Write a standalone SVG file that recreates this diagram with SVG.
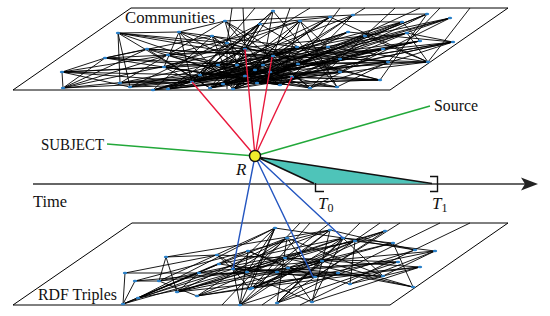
<svg xmlns="http://www.w3.org/2000/svg" width="550" height="316" viewBox="0 0 550 316">
<style>
.plane{fill:none;stroke:#000;stroke-width:1}
.edges{fill:none;stroke:#000;stroke-width:0.9}
.dot{fill:#2a80c8}
.lbl{font-family:"Liberation Serif","DejaVu Serif",serif;font-size:16.5px;fill:#111}
.it{font-family:"Liberation Serif","DejaVu Serif",serif;font-style:italic;font-size:17px;fill:#111}
.sub{font-family:"Liberation Serif","DejaVu Serif",serif;font-size:12px;fill:#111}
.red{stroke:#e8183c;stroke-width:1.4;fill:none}
.green{stroke:#22a83a;stroke-width:1.4;fill:none}
.blue{stroke:#2456c0;stroke-width:1.4;fill:none}
</style>
<rect width="550" height="316" fill="#fff"/>

<g id="communities">
<path class="plane" d="M131,8 L508,8 L390,90 L13,90 Z"/>
<path class="edges" d="M118,33L179,32M118,33L120,83M118,33L130,87M118,33L245,49M118,33L298,64M118,33L227,43M179,32L164,67M179,32L192,82M179,32L297,47M179,32L225,21M147,49L105,58M147,49L273,56M147,49L340,59M105,58L62,72M105,58L63,88M105,58L212,36M105,58L237,65M105,58L328,47M62,72L63,88M62,72L168,55M62,72L218,65M62,72L164,67M62,72L130,87M63,88L147,49M63,88L168,55M63,88L245,49M120,83L297,47M120,83L225,21M130,87L260,24M130,87L263,65M164,67L192,82M164,67L383,49M168,55L300,21M168,55L292,77M168,55L365,36M192,82L227,43M192,82L273,11M192,82L330,17M192,82L348,32M192,82L407,33M192,82L420,41M225,21L237,65M225,21L353,15M225,21L298,64M212,36L257,83M212,36L380,80M227,43L227,89M245,49L260,24M245,49L388,62M245,49L233,89M260,24L330,17M260,24L223,84M260,24L340,72M273,11L263,65M273,11L337,87M300,21L233,89M300,21L402,22M300,21L340,59M330,17L223,84M330,17L428,62M353,15L270,72M353,15L427,14M353,15L292,77M427,14L298,64M427,14L380,80M450,18L257,83M450,18L365,36M402,22L233,89M402,22L420,41M348,32L168,89M348,32L453,42M365,36L218,65M365,36L428,62M407,33L270,72M407,33L453,42M420,41L210,88M420,41L383,49M453,42L292,77M453,42L237,65M297,47L153,90M297,47L388,62M328,47L223,84M328,47L428,62M383,49L257,83M383,49L340,72M340,59L192,82M340,59L428,62M388,62L218,65M388,62L337,87M428,62L263,65M428,62L407,33M298,64L168,89M263,65L153,90M292,77L210,88M292,77L380,80M340,72L233,89M380,80L270,72M337,87L257,83M120,83L340,72M130,87L380,80M63,88L292,77M168,89L388,62M153,90L328,47M233,89L453,42M210,88L300,21M223,84L365,36M245,76L402,22M245,76L118,33M280,85L427,14M280,85L179,32M255,70L450,18M255,70L105,58M310,88L225,21M310,88L453,42M200,75L353,15M200,75L62,72M237,65L420,41M218,65L407,33M257,83L348,32M270,72L147,49M273,56L402,22M273,56L233,89M227,43L340,72M164,67L300,21M168,55L257,83M147,49L210,88M179,32L380,80M212,36L153,90M260,24L168,89M225,21L280,85M245,49L243,8M227,43L232,8M273,56L290,8M298,64L340,8M340,59L395,8M388,62L440,8M428,62L470,8M192,82L255,8M200,75L310,8M233,89L365,8M257,83L420,8M280,85L300,21M245,76L330,17M255,70L200,75M210,88L297,47M223,84L450,18M192,82L255,70M233,89L263,65M270,72L310,88M280,85L407,33M200,75L273,11M245,76L453,42M257,83L428,62M223,84L298,64M310,88L340,59M168,89L245,49M153,90L237,65M130,87L218,65M120,83L192,82M280,85L212,36M337,87L300,21M210,88L260,24M192,82L298,64M200,75L340,72M210,88L340,59M223,84L388,62M233,89L297,47M245,76L380,80M255,70L337,87M257,83L292,77M263,65L210,88M270,72L192,82M273,56L310,88M280,85L164,67M292,77L153,90M298,64L233,89M310,88L218,65M337,87L245,76M340,72L168,89M380,80L223,84M200,75L428,62M210,88L383,49M168,89L273,56M153,90L255,70M130,87L245,76M120,83L270,72M164,67L310,88M218,65L280,85M237,65L200,75M227,43L280,85M212,36L233,89M147,49L257,83M62,72L223,84M63,88L200,75M105,58L280,85M118,33L210,88M179,32L233,89M245,49L192,82M260,24L200,75M273,11L223,84M300,21L245,76M330,17L255,70M348,32L210,88M365,36L257,83M297,47L200,75M328,47L192,82M383,49L223,84M420,41L245,76M453,42L270,72M450,18L310,88M427,14L233,89M402,22L280,85"/>
<g class="dot">
<ellipse cx="118" cy="33" rx="2.2" ry="1.3"/><ellipse cx="179" cy="32" rx="2.2" ry="1.3"/><ellipse cx="147" cy="49" rx="2.2" ry="1.3"/><ellipse cx="105" cy="58" rx="2.2" ry="1.3"/><ellipse cx="62" cy="72" rx="2.2" ry="1.3"/><ellipse cx="63" cy="88" rx="2.2" ry="1.3"/><ellipse cx="120" cy="83" rx="2.2" ry="1.3"/><ellipse cx="130" cy="87" rx="2.2" ry="1.3"/><ellipse cx="164" cy="67" rx="2.2" ry="1.3"/><ellipse cx="168" cy="55" rx="2.2" ry="1.3"/><ellipse cx="192" cy="82" rx="2.2" ry="1.3"/><ellipse cx="225" cy="21" rx="2.2" ry="1.3"/><ellipse cx="227" cy="43" rx="2.2" ry="1.3"/><ellipse cx="212" cy="36" rx="2.2" ry="1.3"/><ellipse cx="245" cy="49" rx="2.2" ry="1.3"/><ellipse cx="260" cy="24" rx="2.2" ry="1.3"/><ellipse cx="273" cy="56" rx="2.2" ry="1.3"/><ellipse cx="237" cy="65" rx="2.2" ry="1.3"/><ellipse cx="218" cy="65" rx="2.2" ry="1.3"/><ellipse cx="257" cy="83" rx="2.2" ry="1.3"/><ellipse cx="233" cy="89" rx="2.2" ry="1.3"/><ellipse cx="273" cy="11" rx="2.2" ry="1.3"/><ellipse cx="300" cy="21" rx="2.2" ry="1.3"/><ellipse cx="330" cy="17" rx="2.2" ry="1.3"/><ellipse cx="353" cy="15" rx="2.2" ry="1.3"/><ellipse cx="427" cy="14" rx="2.2" ry="1.3"/><ellipse cx="450" cy="18" rx="2.2" ry="1.3"/><ellipse cx="402" cy="22" rx="2.2" ry="1.3"/><ellipse cx="348" cy="32" rx="2.2" ry="1.3"/><ellipse cx="365" cy="36" rx="2.2" ry="1.3"/><ellipse cx="407" cy="33" rx="2.2" ry="1.3"/><ellipse cx="420" cy="41" rx="2.2" ry="1.3"/><ellipse cx="453" cy="42" rx="2.2" ry="1.3"/><ellipse cx="297" cy="47" rx="2.2" ry="1.3"/><ellipse cx="328" cy="47" rx="2.2" ry="1.3"/><ellipse cx="383" cy="49" rx="2.2" ry="1.3"/><ellipse cx="340" cy="59" rx="2.2" ry="1.3"/><ellipse cx="388" cy="62" rx="2.2" ry="1.3"/><ellipse cx="428" cy="62" rx="2.2" ry="1.3"/><ellipse cx="298" cy="64" rx="2.2" ry="1.3"/><ellipse cx="263" cy="65" rx="2.2" ry="1.3"/><ellipse cx="292" cy="77" rx="2.2" ry="1.3"/><ellipse cx="340" cy="72" rx="2.2" ry="1.3"/><ellipse cx="380" cy="80" rx="2.2" ry="1.3"/><ellipse cx="337" cy="87" rx="2.2" ry="1.3"/><ellipse cx="168" cy="89" rx="2.2" ry="1.3"/><ellipse cx="153" cy="90" rx="2.2" ry="1.3"/><ellipse cx="223" cy="84" rx="2.2" ry="1.3"/><ellipse cx="270" cy="72" rx="2.2" ry="1.3"/><ellipse cx="245" cy="76" rx="2.2" ry="1.3"/><ellipse cx="280" cy="85" rx="2.2" ry="1.3"/><ellipse cx="210" cy="88" rx="2.2" ry="1.3"/><ellipse cx="310" cy="88" rx="2.2" ry="1.3"/><ellipse cx="255" cy="70" rx="2.2" ry="1.3"/><ellipse cx="200" cy="75" rx="2.2" ry="1.3"/>
</g>
<text class="lbl" x="125" y="23" textLength="90" lengthAdjust="spacingAndGlyphs">Communities</text>
</g>

<g id="rdf-triples">
<path class="plane" d="M132,223 L508,223 L390,305 L13,305 Z"/>
<path class="edges" d="M166,257L217,255M166,257L159,281M166,257L177,292M125,273L217,255M125,273L123,304M125,273L199,273M135,281L159,281M135,281L123,304M135,281L248,251M159,281L247,272M159,281L197,296M217,255L233,269M217,255L247,272M199,273L233,269M199,273L177,292M219,264L343,238M219,264L138,298M248,251L240,305M248,251L330,230M233,269L250,289M233,269L355,241M177,292L343,238M138,298L275,228M197,296L287,238M123,304L330,230M123,304L285,258M138,298L322,261M177,292L385,231M197,296L393,243M240,305L415,250M250,289L435,251M277,303L398,262M312,302L420,267M312,302L330,230M277,303L287,238M240,305L275,228M275,228L343,238M275,228L250,289M287,238L383,276M287,238L315,277M330,230L415,250M330,230L277,272M343,238L393,243M355,241L435,251M355,241L288,268M285,258L420,267M285,258L398,262M322,261L413,287M322,261L252,288M277,272L383,276M288,268L338,273M315,277L420,267M315,277L385,231M315,277L233,269M338,273L413,287M350,284L435,251M350,284L288,268M383,276L435,251M393,243L413,287M398,262L277,272M415,250L343,238M385,231L355,241M159,281L355,241M135,281L288,268M123,304L219,264M138,298L199,273M177,292L315,277M197,296L338,273M250,289L385,231M240,305L343,238M277,303L322,261M312,302L233,269M219,264L287,238M247,272L398,262M247,272L275,228M248,251L315,277M252,288L420,267M177,292L247,272M166,257L330,230M217,255L285,258M199,273L383,276M233,269L240,305M288,268L312,302M338,273L277,303M355,241L350,284M393,243L288,268M435,251L322,261M420,267L350,284M413,287L285,258M383,276L343,238M159,281L275,228M138,298L233,269M123,304L248,251M197,296L252,288M177,292L287,238M252,288L310,223M277,303L360,223M315,277L400,223M338,273L440,223M285,258L330,223M262,305L380,223M222,305L300,223M300,305L470,223M233,269L338,273M247,272L343,238M250,289L322,261M240,305L288,268M277,303L315,277M252,288L355,241M219,264L277,272M248,251L288,268M275,228L233,269M287,238L247,272M330,230L250,289M343,238L277,303M285,258L240,305M322,261L233,269M312,302L343,238M197,296L285,258M177,292L277,272"/>
<g class="dot">
<ellipse cx="166" cy="257" rx="2.2" ry="1.3"/><ellipse cx="217" cy="255" rx="2.2" ry="1.3"/><ellipse cx="125" cy="273" rx="2.2" ry="1.3"/><ellipse cx="135" cy="281" rx="2.2" ry="1.3"/><ellipse cx="159" cy="281" rx="2.2" ry="1.3"/><ellipse cx="199" cy="273" rx="2.2" ry="1.3"/><ellipse cx="219" cy="264" rx="2.2" ry="1.3"/><ellipse cx="248" cy="251" rx="2.2" ry="1.3"/><ellipse cx="247" cy="272" rx="2.2" ry="1.3"/><ellipse cx="233" cy="269" rx="2.2" ry="1.3"/><ellipse cx="177" cy="292" rx="2.2" ry="1.3"/><ellipse cx="138" cy="298" rx="2.2" ry="1.3"/><ellipse cx="197" cy="296" rx="2.2" ry="1.3"/><ellipse cx="250" cy="289" rx="2.2" ry="1.3"/><ellipse cx="123" cy="304" rx="2.2" ry="1.3"/><ellipse cx="275" cy="228" rx="2.2" ry="1.3"/><ellipse cx="287" cy="238" rx="2.2" ry="1.3"/><ellipse cx="330" cy="230" rx="2.2" ry="1.3"/><ellipse cx="343" cy="238" rx="2.2" ry="1.3"/><ellipse cx="355" cy="241" rx="2.2" ry="1.3"/><ellipse cx="285" cy="258" rx="2.2" ry="1.3"/><ellipse cx="322" cy="261" rx="2.2" ry="1.3"/><ellipse cx="277" cy="272" rx="2.2" ry="1.3"/><ellipse cx="288" cy="268" rx="2.2" ry="1.3"/><ellipse cx="315" cy="277" rx="2.2" ry="1.3"/><ellipse cx="338" cy="273" rx="2.2" ry="1.3"/><ellipse cx="350" cy="284" rx="2.2" ry="1.3"/><ellipse cx="277" cy="303" rx="2.2" ry="1.3"/><ellipse cx="312" cy="302" rx="2.2" ry="1.3"/><ellipse cx="240" cy="305" rx="2.2" ry="1.3"/><ellipse cx="385" cy="231" rx="2.2" ry="1.3"/><ellipse cx="393" cy="243" rx="2.2" ry="1.3"/><ellipse cx="415" cy="250" rx="2.2" ry="1.3"/><ellipse cx="435" cy="251" rx="2.2" ry="1.3"/><ellipse cx="398" cy="262" rx="2.2" ry="1.3"/><ellipse cx="420" cy="267" rx="2.2" ry="1.3"/><ellipse cx="383" cy="276" rx="2.2" ry="1.3"/><ellipse cx="413" cy="287" rx="2.2" ry="1.3"/><ellipse cx="252" cy="288" rx="2.2" ry="1.3"/>
</g>
<text class="lbl" x="38" y="300" textLength="79" lengthAdjust="spacingAndGlyphs">RDF Triples</text>
</g>

<g id="time-axis">
<line x1="33" y1="184" x2="526" y2="184" stroke="#333" stroke-width="1.5"/>
<path d="M538,184 L521,177.5 L525,184 L521,190.5 Z" fill="#222"/>
<text class="lbl" x="33" y="207" textLength="34" lengthAdjust="spacingAndGlyphs">Time</text>
</g>

<g id="interval">
<polygon points="257,157 432,183.5 314,183.5" fill="#4ec4b9"/>
<path d="M257,157 L432,183.5 M257,157 L314,183.5" stroke="#111" stroke-width="1.6" fill="none"/>
</g>

<g id="connectors">
<path class="red" d="M255,156 L192,82 M255,156 L245,49 M255,156 L272,57 M255,156 L292,77"/>
<path class="green" d="M255,156 L107,144 M255,156 L430,106"/>
<path class="blue" d="M255,156 L233,269 M255,156 L313,277 M255,156 L343,238"/>
</g>

<g id="R">
<circle cx="255" cy="156" r="5.5" fill="#f0ec2c" stroke="#111" stroke-width="1.4"/>
<text class="it" x="236" y="175">R</text>
</g>

<g id="subject">
<text class="lbl" x="41" y="150" textLength="63" lengthAdjust="spacingAndGlyphs">SUBJECT</text>
</g>
<g id="source">
<text class="lbl" x="434" y="111" textLength="44" lengthAdjust="spacingAndGlyphs">Source</text>
</g>

<g id="T0">
<path d="M315.5,183 L315.5,191.5 L324,191.5" stroke="#111" stroke-width="1.4" fill="none"/>
<text class="it" x="318" y="209">T<tspan class="sub" font-style="normal" dy="3">0</tspan></text>
</g>
<g id="T1">
<path d="M430,176.5 L437.5,176.5 L437.5,191.5 L430,191.5" stroke="#111" stroke-width="1.4" fill="none"/>
<text class="it" x="432" y="209">T<tspan class="sub" font-style="normal" dy="3">1</tspan></text>
</g>
</svg>
